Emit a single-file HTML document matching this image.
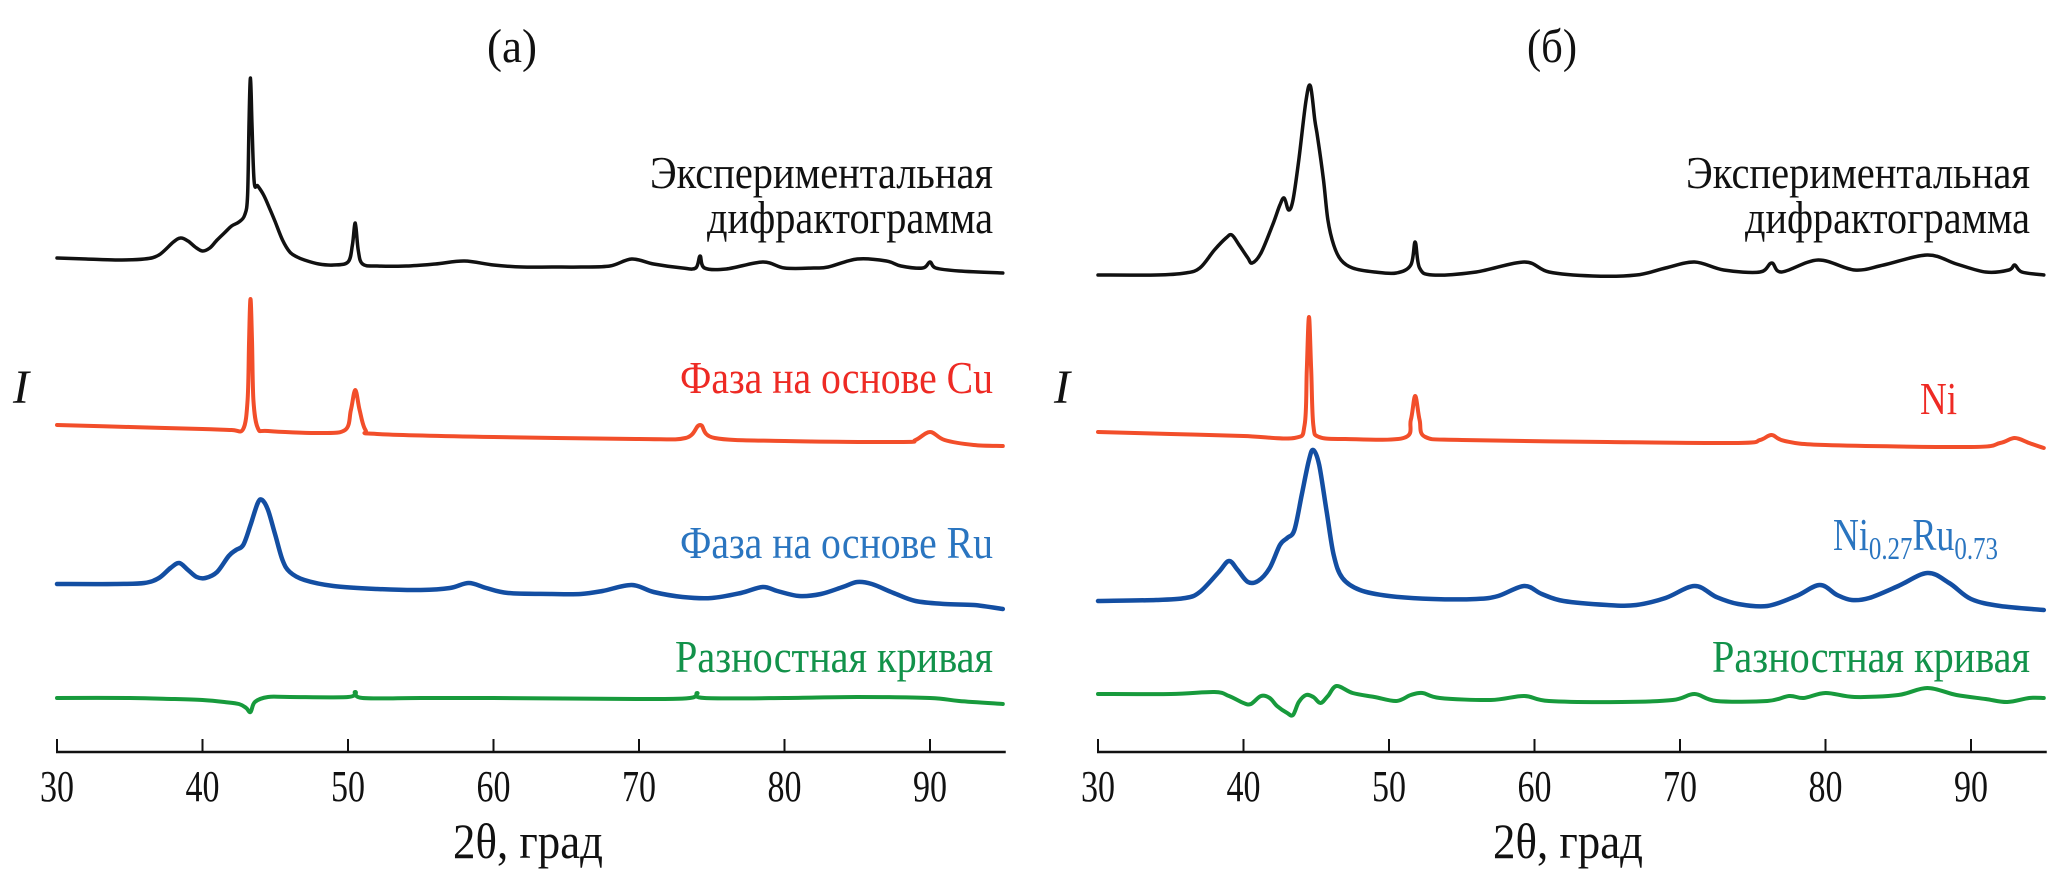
<!DOCTYPE html>
<html><head><meta charset="utf-8"><style>
html,body{margin:0;padding:0;background:#fff;}
svg{display:block;font-family:"Liberation Serif",serif;}
</style></head><body>
<svg id="chart" width="2067" height="877" viewBox="0 0 2067 877" xmlns="http://www.w3.org/2000/svg">
<g id="panelA"></g>
<g id="panelB"></g>
</svg>
<script>
// ---- data: 2θ (deg) and relative intensity (arb. units) ----
const ticks = [30,40,50,60,70,80,90];
const tickLabels = ["30","40","50","60","70","80","90"];

const expA_x = [30,32,34,36,37,38,38.5,39,39.5,40,40.5,41,41.5,42,42.5,42.9,43.1,43.2,43.3,43.4,43.55,43.8,44.2,44.6,45,45.5,46,46.5,47,48,49,50,50.3,50.5,50.7,51,52,54,56,58,60,62,64,66,68,69.5,71,73,73.9,74.2,74.5,76,78.5,80,82,83,85,87,88,89.5,90,90.4,92,95];
const expA_I = [17,16,15,16,20,33,37,34,28,24,27,35,42,49,53,60,80,155,197,150,93,89,80,67,53,35,23,18,15,11,10,13,30,52,25,11,9,9,11,14,10,8,8,8,9,16,11,7,7,19,7,6,13,7,7,8,16,14,9,7,13,7,4,2];

const cuA_x = [30,35,40,42,42.8,43.1,43.2,43.3,43.4,43.5,43.8,44.5,48,49.8,50.2,50.5,50.8,51.2,52,60,70,73.2,74.2,75.2,80,88,89,90,91,93,95];
const cuA_I = [25,23,21,20,21,50,110,151,110,50,22,19,17,20,40,60,40,20,16,13,11,12,25,12,9,8,10,18,10,5,4];

const ruA_x = [30,34,36,37,37.8,38.4,39,39.6,40.2,41,41.8,42.3,42.8,43.3,43.8,44.1,44.5,45,45.5,46,47,49,52,55,57,58.3,59.5,61,64,66,67.5,69.5,71,73,75,77,78.5,79.5,81,82.5,84,85,86,87.5,89,91,93,95];
const ruA_I = [31,31,32,37,47,52,45,38,37,43,59,65,70,90,112,115,105,80,55,43,35,29,26,25,27,32,27,22,21,21,24,30,23,18,17,22,28,24,19,21,28,33,31,22,14,11,10,6];

const diffA_x = [30,35,38,40,41.5,42.5,43,43.3,43.6,44.5,46,50,50.5,51,55,60,70,73.5,74,74.5,80,85,90,92,95];
const diffA_I = [12,12,11,10,8,6,2,-2,8,13,13,13,18,12,12,12,11,12,17,12,12,13,12,9,6];

const expB_x = [30,34,36,37,38,38.8,39.2,39.7,40.3,40.6,41.2,42,42.5,42.8,43.1,43.4,43.8,44.3,44.6,44.9,45.1,45.5,45.8,46.2,46.7,47.5,49,50.5,51.5,51.8,52.1,53,56,59.3,61,64,67,69,71,73,75.5,76.3,77,79.5,82,84,87,89,91,92.6,93,93.5,95];
const expB_I = [10,10,12,17,35,47,50,40,27,22,32,60,80,87,75,85,125,185,199,165,147,105,65,40,25,17,13,12,20,43,17,10,13,23,13,9,10,17,23,15,13,22,13,25,15,20,30,21,13,15,20,13,10];

const niB_x = [30,35,40,43.5,44.2,44.35,44.5,44.65,44.8,45.2,47,51,51.5,51.8,52.1,52.5,55,65,74,75.5,76.3,77.2,80,90,92,93,94,95];
const niB_I = [23,21,19,17,30,85,138,85,30,18,16,17,35,59,35,18,15,13,12,15,20,14,10,8,12,17,12,7];

const niruB_x = [30,34,36,37,38.3,39,39.6,40.3,41,41.8,42.5,43,43.5,44,44.5,44.8,45.2,45.7,46.2,46.8,48,50,53,56,57.5,59.3,60.5,62,65,67,69,71,72.5,74,76,78,79.6,80.8,81.8,83,85,87,88.5,90,92,95];
const niruB_I = [19,20,22,28,48,59,50,38,39,52,75,82,90,125,160,170,155,110,65,42,30,24,21,21,24,34,26,19,15,15,22,34,23,16,14,24,35,25,20,22,34,47,37,21,14,10];

const diffB_x = [30,35,38,39,40,40.5,41.2,41.8,42.3,43,43.4,43.8,44.3,44.8,45.3,45.8,46.4,47.5,49,50.5,51.5,52.3,53.5,57,59.3,61,66,69.5,71,72.5,76,77.5,78.5,80,82,85,87,89,91,92.5,94,95];
const diffB_I = [16,16,18,14,7,6,14,12,4,-3,-5,8,15,13,7,14,24,17,13,9,15,17,12,10,14,9,8,10,16,9,9,14,12,17,13,15,22,15,11,8,12,12];

// ---- layout ----
const NS = "http://www.w3.org/2000/svg";
function mk(tag, attrs, parent){ const e=document.createElementNS(NS,tag); for(const k in attrs) e.setAttribute(k,attrs[k]); parent.appendChild(e); return e; }

function catmull(pts){
  let d = "M"+pts[0][0].toFixed(1)+","+pts[0][1].toFixed(1);
  for(let i=0;i<pts.length-1;i++){
    const p0=pts[i-1]||pts[i], p1=pts[i], p2=pts[i+1], p3=pts[i+2]||p2;
    const c1x=p1[0]+(p2[0]-p0[0])/6, c1y=p1[1]+(p2[1]-p0[1])/6;
    const c2x=p2[0]-(p3[0]-p1[0])/6, c2y=p2[1]-(p3[1]-p1[1])/6;
    d+=" C"+c1x.toFixed(1)+","+c1y.toFixed(1)+" "+c2x.toFixed(1)+","+c2y.toFixed(1)+" "+p2[0].toFixed(1)+","+p2[1].toFixed(1);
  }
  return d;
}

function drawPanel(g, x0, title, titleX, curves, labels){
  const xs = v => x0 + (v-30)*14.55;
  const axisY = 752;
  const ax = mk("line",{x1:x0-1,y1:axisY,x2:xs(95)+3,y2:axisY,stroke:"#111","stroke-width":2.5},g);
  
  
  ticks.forEach((t,i)=>{
    const tk = mk("line",{x1:xs(t),y1:axisY-13,x2:xs(t),y2:axisY,stroke:"#111","stroke-width":2},g);
    
    
    const tl = mk("text",{x:xs(t),y:801,"text-anchor":"middle","font-size":44,fill:"#111",textLength:34,lengthAdjust:"spacingAndGlyphs"},g);
    tl.textContent = tickLabels[i];
    
    
  });
  const xt = mk("text",{x:titleX,y:858,"text-anchor":"middle","font-size":50,fill:"#111",textLength:150,lengthAdjust:"spacingAndGlyphs"},g);
  xt.textContent = "2θ, град";
  
  
  const pt = mk("text",{x:titleX-16,y:62,"text-anchor":"middle","font-size":48,fill:"#111",textLength:50,lengthAdjust:"spacingAndGlyphs"},g);
  pt.textContent = title;
  
  
  const yl = mk("text",{x:x0-44,y:403,"font-size":48,"font-style":"italic",fill:"#111"},g);
  yl.textContent = "I";
  
  
  curves.forEach(c=>{
    const pts = c.x.map((v,i)=>[xs(v), c.base - c.I[i]]);
    const p = mk("path",{d:catmull(pts),fill:"none",stroke:c.color,"stroke-width":c.w,"stroke-linejoin":"round","stroke-linecap":"round"},g);
    
    
  });
  labels.forEach(l=>{
    const t = mk("text",{x:l.x,y:l.y,"text-anchor":"end","font-size":46,fill:l.color},g);
    if(l.len){ t.setAttribute("textLength",l.len); t.setAttribute("lengthAdjust","spacingAndGlyphs"); }
    if(l.parts){
      l.parts.forEach(pp=>{
        const ts = mk("tspan",{},t);
        if(pp.sub){ ts.setAttribute("font-size",32); ts.setAttribute("dy",9); } else if(pp.up){ ts.setAttribute("dy",-9); }
        ts.textContent = pp.t;
      });
    } else t.textContent = l.text;
    
    
  });
}

const BLACK="#111", RED="#f24e2a", BLUE="#134ea2", GREEN="#179a3c";
drawPanel(document.getElementById("panelA"), 57, "(а)", 528, [
  {x:expA_x,I:expA_I,base:275,color:BLACK,w:3.5,name:"experimental-curve-a"},
  {x:cuA_x,I:cuA_I,base:450,color:RED,w:4,name:"cu-phase-curve"},
  {x:ruA_x,I:ruA_I,base:615,color:BLUE,w:4.5,name:"ru-phase-curve"},
  {x:diffA_x,I:diffA_I,base:710,color:GREEN,w:4,name:"difference-curve-a"}
],[
  {x:993,y:188,text:"Экспериментальная",color:"#111",len:343,name:"experimental-label-line1"},
  {x:993,y:233,text:"дифрактограмма",color:"#111",len:286,name:"experimental-label-line2"},
  {x:993,y:393,text:"Фаза на основе Cu",color:"#ee2a24",len:313,name:"cu-phase-label"},
  {x:993,y:558,text:"Фаза на основе Ru",color:"#2a75c0",len:313,name:"ru-phase-label"},
  {x:993,y:672,text:"Разностная кривая",color:"#12924a",len:318,name:"difference-label-a"}
]);
drawPanel(document.getElementById("panelB"), 1098, "(б)", 1568, [
  {x:expB_x,I:expB_I,base:285,color:BLACK,w:3.5,name:"experimental-curve-b"},
  {x:niB_x,I:niB_I,base:455,color:RED,w:4,name:"ni-phase-curve"},
  {x:niruB_x,I:niruB_I,base:620,color:BLUE,w:4.5,name:"niru-phase-curve"},
  {x:diffB_x,I:diffB_I,base:710,color:GREEN,w:4,name:"difference-curve-b"}
],[
  {x:2030,y:188,text:"Экспериментальная",color:"#111",len:344,name:"experimental-label-b-line1"},
  {x:2030,y:233,text:"дифрактограмма",color:"#111",len:285,name:"experimental-label-b-line2"},
  {x:1957,y:414,text:"Ni",color:"#ee2a24",len:37,name:"ni-phase-label"},
  {x:1998,y:550,parts:[{t:"Ni"},{t:"0.27",sub:true},{t:"Ru",up:true},{t:"0.73",sub:true}],color:"#2a75c0",len:165,name:"niru-phase-label"},
  {x:2030,y:672,text:"Разностная кривая",color:"#12924a",len:318,name:"difference-label-b"}
]);
</script>
</body></html>
